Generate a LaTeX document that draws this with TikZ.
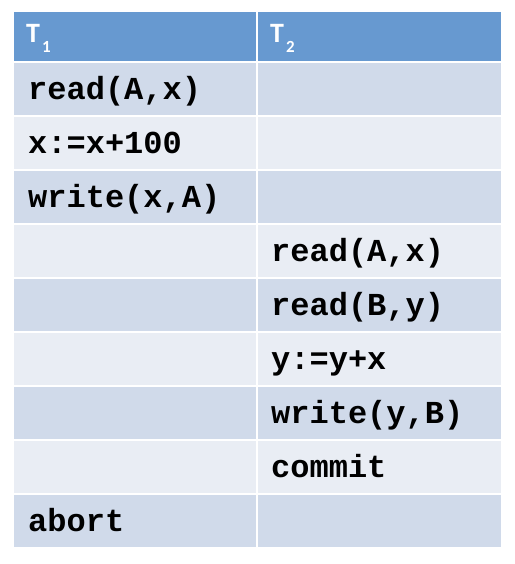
\documentclass[tikz,border=0pt]{standalone}
\usepackage{fontspec}
\setmainfont{Carlito}
\newfontfamily\codefont{Liberation Mono}
\definecolor{hdrblue}{RGB}{103,153,208}
\definecolor{rowdark}{RGB}{208,218,234}
\definecolor{rowlight}{RGB}{233,237,244}
\begin{document}
\begin{tikzpicture}[x=1pt,y=-1pt,
  cellbox/.style={draw=none,inner sep=0pt,anchor=north west,minimum height=52pt},
  leftcol/.style={cellbox,minimum width=242pt},
  rightcol/.style={cellbox,minimum width=243pt},
  hdrtext/.style={anchor=base west,inner sep=0pt,text=white,font=\bfseries\fontsize{28}{32}\selectfont},
  codetext/.style={anchor=base west,inner sep=0pt,font=\codefont\bfseries\fontsize{32}{36}\selectfont}]
\useasboundingbox (0,0) rectangle (514,564);
% header
\node[leftcol,fill=hdrblue,minimum height=49pt] (h1) at (14,12) {};
\node[rightcol,fill=hdrblue,minimum height=49pt] (h2) at (258,12) {};
\node[hdrtext] (t1) at (26,43) {T\kern2pt\raisebox{-10pt}{\fontsize{17}{19}\selectfont 1}};
\node[hdrtext] (t2) at (270,43) {T\kern2pt\raisebox{-10pt}{\fontsize{17}{19}\selectfont 2}};
% rows
\foreach \r in {1,...,9}{
  \pgfmathtruncatemacro{\odd}{mod(\r,2)}
  \ifnum\odd=1 \def\rc{rowdark}\else\def\rc{rowlight}\fi
  \node[leftcol,fill=\rc] (a\r) at (14,{63+(\r-1)*54}) {};
  \node[rightcol,fill=\rc] (b\r) at (258,{63+(\r-1)*54}) {};
}
% texts
\node[codetext] (x1) at ([xshift=14pt,yshift=-10pt]a1.west) {read(A,x)};
\node[codetext] (x2) at ([xshift=14pt,yshift=-10pt]a2.west) {x:=x+100};
\node[codetext] (x3) at ([xshift=14pt,yshift=-10pt]a3.west) {write(x,A)};
\node[codetext] (x4) at ([xshift=13pt,yshift=-10pt]b4.west) {read(A,x)};
\node[codetext] (x5) at ([xshift=13pt,yshift=-10pt]b5.west) {read(B,y)};
\node[codetext] (x6) at ([xshift=13pt,yshift=-10pt]b6.west) {y:=y+x};
\node[codetext] (x7) at ([xshift=13pt,yshift=-10pt]b7.west) {write(y,B)};
\node[codetext] (x8) at ([xshift=13pt,yshift=-10pt]b8.west) {commit};
\node[codetext] (x9) at ([xshift=14pt,yshift=-10pt]a9.west) {abort};
\end{tikzpicture}
\end{document}
